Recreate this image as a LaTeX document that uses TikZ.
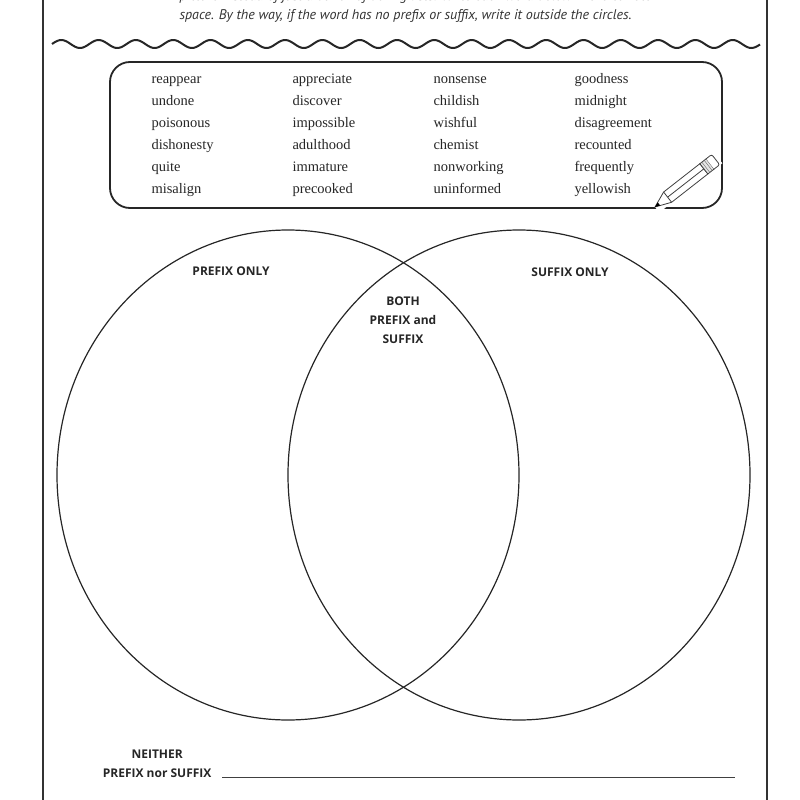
\documentclass[tikz,border=0pt]{standalone}
\usepackage{fontspec}
\setmainfont{Liberation Serif}
\newfontfamily\lab{Open Sans}
\newfontfamily\instr{PT Sans}
\begin{document}
\begin{tikzpicture}[x=1pt,y=-1pt,
  word/.style={anchor=base west,font=\fontsize{14.5}{16}\selectfont,text=black!85},
  lbl/.style={font=\lab\bfseries\fontsize{12}{19}\selectfont,align=center,text=black!85},
  ins/.style={anchor=west,font=\instr\itshape\fontsize{14}{16}\selectfont,text=black!80}]
\useasboundingbox (0,0) rectangle (800,800);
\clip (0,0) rectangle (800,800);
\draw[line width=1.6pt,black!80] (43,-10) -- (43,810) (767,-10) -- (767,810);
\node[ins] (t1) at (176,-3) {picture instead of just a bunch of boring lists. Write each word below in the correct};
\node[ins] (t2) at (176,16) {space. By the way, if the word has no prefix or suffix, write it outside the circles.};
\draw[line width=2pt,black!85] plot[domain=52:760,samples=400,smooth] (\x,{44-4*sin((\x-52)/37.3*360)});
\draw[line width=1.8pt,black!85,rounded corners=20pt] (110,62) rectangle (722,208);
\foreach \c/\x in {{reappear,undone,poisonous,dishonesty,quite,misalign}/150,
  {appreciate,discover,impossible,adulthood,immature,precooked}/291,
  {nonsense,childish,wishful,chemist,nonworking,uninformed}/432,
  {goodness,midnight,disagreement,recounted,frequently,yellowish}/573}{
  \foreach \w [count=\i] in \c { \node[word] at (\x-2,{61+22*\i}) {\w}; } }
% pencil
\begin{scope}[shift={(655,207)},rotate=38]
 \fill[white] (0,-7) rectangle (80,7);
 \draw[black!75,line width=0.8pt,fill=white] (0,0) -- (16,-6.5) -- (62,-6.5) -- (62,6.5) -- (16,6.5) -- cycle;
 \fill[black] (0,0) -- (5,-2) -- (5,2) -- cycle;
 \draw[black!75,line width=0.8pt] (16,-6.5) -- (16,6.5) (16,0) -- (62,0);
 \draw[black!75,line width=0.8pt,fill=black!10] (62,-6.5) rectangle (70,6.5);
 \draw[black!75,line width=0.8pt,rounded corners=2pt,fill=white] (70,-6.5) -- (77,-6.5) -- (77,6.5) -- (70,6.5);
 \draw[black!60] (64.5,-6.5) -- (64.5,6.5) (67.5,-6.5) -- (67.5,6.5);
\end{scope}
\draw[line width=1.2pt,black!85] (288,475) ellipse [x radius=231,y radius=245];
\draw[line width=1.2pt,black!85] (519,475) ellipse [x radius=231,y radius=245];
\node[lbl] (p) at (231,271) {PREFIX ONLY};
\node[lbl] (s) at (570,272) {SUFFIX ONLY};
\node[lbl] (b) at (403,320) {BOTH\\PREFIX and\\SUFFIX};
\node[lbl,align=center,anchor=east] (n) at (215,764) {NEITHER\\PREFIX nor SUFFIX};
\coordinate (l1) at (222,777); \coordinate (l2) at (735,777);
\draw[line width=1pt,black!75] (l1) -- (l2);
\end{tikzpicture}
\end{document}
